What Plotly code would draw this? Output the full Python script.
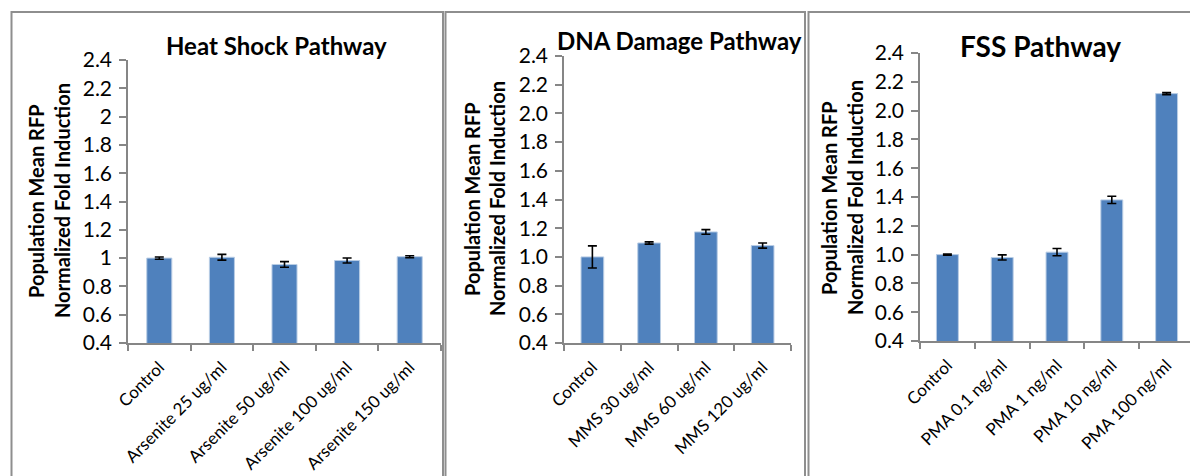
import plotly.graph_objects as go

# ---- data ----
heat_labels = ["Control", "Arsenite 25 ug/ml", "Arsenite 50 ug/ml",
               "Arsenite 100 ug/ml", "Arsenite 150 ug/ml"]
heat_values = [1.000, 1.006, 0.955, 0.983, 1.010]
heat_errors = [0.008, 0.020, 0.020, 0.018, 0.007]

dna_labels = ["Control", "MMS 30 ug/ml", "MMS 60 ug/ml", "MMS 120 ug/ml"]
dna_values = [1.000, 1.097, 1.174, 1.079]
dna_errors = [0.077, 0.008, 0.016, 0.018]

fss_labels = ["Control", "PMA 0.1 ng/ml", "PMA 1 ng/ml", "PMA 10 ng/ml", "PMA 100 ng/ml"]
fss_values = [1.000, 0.980, 1.017, 1.380, 2.118]
fss_errors = [0.004, 0.018, 0.025, 0.025, 0.007]

y_ticks = [0.4, 0.6, 0.8, 1.0, 1.2, 1.4, 1.6, 1.8, 2.0, 2.2, 2.4]

W, H = 1190, 476
FONT = "Lato, 'Open Sans', sans-serif"
BAR = "#4F81BD"
AXIS = "#868686"
BORDER = "#8E8E8E"


def px(x):
    return x / W


def py(y):
    return 1 - y / H


fig = go.Figure()

panels = [
    dict(labels=heat_labels, values=heat_values, errors=heat_errors,
         xd=(128, 441), yd=(343, 60), xr=(-0.5, 4.5), fmt=None,
         title="Heat Shock Pathway", tx=276, ty=46, tsize=24,
         ytx=(36, 62), yty=201),
    dict(labels=dna_labels, values=dna_values, errors=dna_errors,
         xd=(564, 791), yd=(343, 56), xr=(-0.5, 3.5), fmt=".1f",
         title="DNA Damage Pathway", tx=679, ty=40, tsize=24,
         ytx=(472, 497), yty=199),
    dict(labels=fss_labels, values=fss_values, errors=fss_errors,
         xd=(920, 1190), yd=(341, 53), xr=(-0.5, 4.5 - 4 / 54.7), fmt=".1f",
         title="FSS Pathway", tx=1040, ty=46, tsize=28,
         ytx=(829, 855), yty=198),
]

annotations = []
for i, p in enumerate(panels, start=1):
    xa = "x" if i == 1 else f"x{i}"
    ya = "y" if i == 1 else f"y{i}"
    fig.add_trace(go.Bar(
        x=p["labels"], y=p["values"], xaxis=xa, yaxis=ya, width=0.4,
        marker=dict(color=BAR, line=dict(color="#B9CDE5", width=1)),
        error_y=dict(type="data", array=p["errors"], visible=True,
                     color="black", thickness=1.6, width=4.5),
        showlegend=False,
    ))
    if p["fmt"]:
        ticktext = [format(v, p["fmt"]) for v in y_ticks]
    else:
        ticktext = [f"{v:g}" for v in y_ticks]
    xkey = "xaxis" if i == 1 else f"xaxis{i}"
    ykey = "yaxis" if i == 1 else f"yaxis{i}"
    fig.update_layout(**{
        xkey: dict(
            domain=[px(p["xd"][0]), px(p["xd"][1])], anchor=ya,
            type="category", range=list(p["xr"]), tickson="boundaries",
            ticks="outside", ticklen=6, tickcolor=AXIS, tickwidth=1.5,
            showline=True, linecolor=AXIS, linewidth=1.5,
            showgrid=False, zeroline=False, tickangle=-45,
            ticklabelstandoff=6,
            tickfont=dict(family=FONT, size=17, color="black"),
            fixedrange=True, automargin=False,
        ),
        ykey: dict(
            domain=[py(p["yd"][0]), py(p["yd"][1])], anchor=xa,
            range=[0.4, 2.4], tickvals=y_ticks, ticktext=ticktext,
            ticks="outside", ticklen=7, tickcolor=AXIS, tickwidth=1.5,
            showline=True, linecolor=AXIS, linewidth=1.5,
            showgrid=False, zeroline=False, ticklabelstandoff=3,
            tickfont=dict(family=FONT, size=21, color="black"),
            fixedrange=True, automargin=False,
        ),
    })
    annotations.append(dict(
        text=f"<b>{p['title']}</b>", x=px(p["tx"]), y=py(p["ty"]),
        xref="paper", yref="paper", showarrow=False,
        xanchor="center", yanchor="middle",
        font=dict(family=FONT, size=p["tsize"], color="black"),
    ))
    for tx, line in zip(p["ytx"], ["Population Mean RFP", "Normalized Fold Induction"]):
        annotations.append(dict(
            text=f"<b>{line}</b>", x=px(tx), y=py(p["yty"]),
            xref="paper", yref="paper", showarrow=False, textangle=-90,
            xanchor="center", yanchor="middle",
            font=dict(family=FONT, size=20, color="black"),
        ))

# panel frames
shapes = []
frames = [(11.5, 443.0), (445.5, 805.0), (808.5, 1200.0)]
for x0, x1 in frames:
    shapes.append(dict(type="rect", xref="paper", yref="paper",
                       x0=px(x0), x1=px(x1), y0=py(490), y1=py(12),
                       line=dict(color=BORDER, width=2), fillcolor="rgba(0,0,0,0)",
                       layer="below"))

fig.update_layout(
    template="none",
    width=W, height=H,
    margin=dict(l=0, r=0, t=0, b=0, pad=0, autoexpand=False),
    paper_bgcolor="white", plot_bgcolor="rgba(0,0,0,0)",
    annotations=annotations, shapes=shapes,
    bargap=0.6, showlegend=False,
)

fig.write_html("out.html", config={"displayModeBar": False})
